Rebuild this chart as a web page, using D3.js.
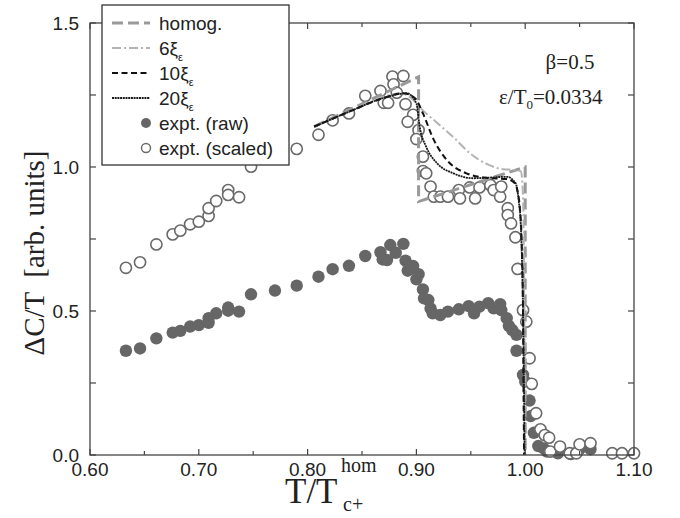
<!DOCTYPE html>
<html>
<head>
<meta charset="utf-8">
<script src="https://cdn.jsdelivr.net/npm/d3@7"></script>
<style>
  body { margin: 0; background: #fff; }
  svg { display: block; }
  .tick-label { font-family: "Liberation Sans", Arial, sans-serif; font-size: 19px; fill: #222; }
  .serif { font-family: "Liberation Serif", "Times New Roman", serif; fill: #222; white-space: pre; }
  .legend-text { font-family: "Liberation Sans", Arial, sans-serif; font-size: 19px; fill: #222; }
</style>
</head>
<body>
<svg id="chart" width="680" height="518"></svg>
<script>
// experimental points, scaled (open circles)
const scaledT = [0.633, 0.646, 0.661, 0.676, 0.683, 0.692, 0.700, 0.709, 0.709, 0.716, 0.727, 0.727, 0.737, 0.748, 0.790,
  0.810, 0.823, 0.838, 0.853, 0.867, 0.870, 0.874, 0.878, 0.888, 0.879, 0.882, 0.890, 0.897, 0.892, 0.902, 0.900,
  0.906, 0.906, 0.909, 0.913, 0.916, 0.922, 0.929, 0.939, 0.940, 0.949, 0.954, 0.958, 0.968, 0.971, 0.977, 0.978,
  0.984, 0.984, 0.987, 0.991, 0.993, 0.998, 1.001, 1.004, 1.006, 1.010, 1.014, 1.018, 1.022, 1.023, 1.032, 1.041,
  1.047, 1.050, 1.060, 1.080, 1.089, 1.100];
const scaledC = [0.650, 0.669, 0.731, 0.766, 0.779, 0.801, 0.810, 0.830, 0.857, 0.882, 0.920, 0.903, 0.895, 1.001, 1.063,
  1.112, 1.162, 1.186, 1.247, 1.264, 1.223, 1.223, 1.314, 1.316, 1.287, 1.258, 1.218, 1.181, 1.157, 1.128, 1.097,
  1.036, 0.986, 0.978, 0.932, 0.897, 0.897, 0.897, 0.920, 0.891, 0.929, 0.891, 0.929, 0.937, 0.920, 0.897, 0.932,
  0.857, 0.833, 0.804, 0.756, 0.646, 0.503, 0.463, 0.336, 0.247, 0.145, 0.089, 0.069, 0.060, 0.012, 0.029, 0.006,
  0.006, 0.037, 0.041, 0.006, 0.006, 0.006];

// experimental points, raw (filled circles)
const rawT = [0.633, 0.646, 0.661, 0.676, 0.683, 0.692, 0.700, 0.709, 0.709, 0.716, 0.727, 0.727, 0.737, 0.748, 0.770,
  0.790, 0.810, 0.823, 0.838, 0.853, 0.867, 0.869, 0.873, 0.876, 0.888, 0.881, 0.890, 0.897, 0.892, 0.902, 0.900,
  0.906, 0.907, 0.911, 0.913, 0.915, 0.922, 0.929, 0.939, 0.948, 0.953, 0.958, 0.966, 0.971, 0.977, 0.978, 0.983,
  0.985, 0.988, 0.992, 0.992, 0.998, 1.000, 1.004, 1.005, 1.008, 1.012, 1.017, 1.020, 1.030, 1.042, 1.050, 1.060];
const rawC = [0.362, 0.370, 0.405, 0.425, 0.431, 0.446, 0.451, 0.459, 0.475, 0.492, 0.512, 0.501, 0.498, 0.558, 0.571,
  0.588, 0.619, 0.645, 0.657, 0.691, 0.704, 0.679, 0.677, 0.729, 0.733, 0.702, 0.675, 0.656, 0.640, 0.628, 0.610,
  0.575, 0.544, 0.538, 0.509, 0.492, 0.486, 0.498, 0.506, 0.517, 0.492, 0.515, 0.527, 0.509, 0.524, 0.503, 0.475,
  0.448, 0.434, 0.417, 0.362, 0.278, 0.255, 0.189, 0.135, 0.077, 0.031, 0.023, 0.012, 0.006, 0.003, 0.020, 0.020];

// theory curves
const homogT = [0.806, 0.902, 0.902, 1.000, 1.000];
const homogC = [1.140, 1.313, 0.880, 1.000, 0.000];

const xi6T = [0.806, 0.840, 0.870, 0.885, 0.895, 0.905, 0.920, 0.935, 0.950, 0.965, 0.980, 0.990, 0.996, 0.998, 0.9992, 1.000];
const xi6C = [1.140, 1.195, 1.245, 1.255, 1.240, 1.200, 1.150, 1.100, 1.045, 1.010, 0.992, 0.990, 0.985, 0.900, 0.500, 0.000];

const xi10T = [0.806, 0.840, 0.870, 0.888, 0.899, 0.906, 0.916, 0.928, 0.946, 0.965, 0.983, 0.990, 0.993, 0.995, 0.9967, 0.998, 0.9985, 0.999];
const xi10C = [1.140, 1.195, 1.240, 1.256, 1.238, 1.186, 1.094, 1.024, 0.978, 0.962, 0.958, 0.945, 0.915, 0.860, 0.747, 0.490, 0.200, 0.000];

const xi20T = [0.806, 0.840, 0.870, 0.891, 0.900, 0.903, 0.909, 0.919, 0.934, 0.952, 0.971, 0.983, 0.991, 0.994, 0.996, 0.998, 0.999, 0.9995];
const xi20C = [1.140, 1.195, 1.240, 1.256, 1.221, 1.140, 1.070, 1.013, 0.978, 0.961, 0.964, 0.966, 0.945, 0.885, 0.793, 0.500, 0.200, 0.000];

const xTicks = [0.60, 0.70, 0.80, 0.90, 1.00, 1.10];
const yTicks = [0.0, 0.5, 1.0, 1.5];

const svg = d3.select("#chart");
const plotL = 90, plotR = 634, plotT = 23, plotB = 455;

const x = d3.scaleLinear().domain([0.60, 1.10]).range([plotL, plotR]);
const y = d3.scaleLinear().domain([0, 1.5]).range([plotB, plotT]);

const frameColor = "#444";

// points first, curves on top
const raw = d3.zip(rawT, rawC);
const scaled = d3.zip(scaledT, scaledC);

svg.append("g").selectAll("circle")
    .data(raw)
    .enter().append("circle")
    .attr("cx", d => x(d[0]))
    .attr("cy", d => y(d[1]))
    .attr("r", 6.2)
    .attr("fill", "#666");

svg.append("g").selectAll("circle")
    .data(scaled)
    .enter().append("circle")
    .attr("cx", d => x(d[0]))
    .attr("cy", d => y(d[1]))
    .attr("r", 5.6)
    .attr("fill", "#fff")
    .attr("stroke", "#6a6a6a")
    .attr("stroke-width", 1.6);

const curves = [
    { label: "homog.", sub: null, t: homogT, c: homogC, color: "#999", width: 3, dash: "11,5" },
    { label: "6ξ", sub: "ε", t: xi6T, c: xi6C, color: "#b3b3b3", width: 2, dash: "9,3,2,3" },
    { label: "10ξ", sub: "ε", t: xi10T, c: xi10C, color: "#111", width: 2, dash: "6,3.5" },
    { label: "20ξ", sub: "ε", t: xi20T, c: xi20C, color: "#1a1a1a", width: 1.8, dash: "2,0.7" }
];

const line = d3.line()
    .x(d => x(d[0]))
    .y(d => y(d[1]))
    .curve(d3.curveMonotoneX);
const straight = d3.line()
    .x(d => x(d[0]))
    .y(d => y(d[1]));

curves.forEach((cv, i) => {
    svg.append("path")
        .attr("d", (i === 0 ? straight : line)(d3.zip(cv.t, cv.c)))
        .attr("fill", "none")
        .attr("stroke", cv.color)
        .attr("stroke-width", cv.width)
        .attr("stroke-dasharray", cv.dash);
});

// frame and ticks
svg.append("rect")
    .attr("x", plotL).attr("y", plotT)
    .attr("width", plotR - plotL).attr("height", plotB - plotT)
    .attr("fill", "none")
    .attr("stroke", frameColor)
    .attr("stroke-width", 1.3);

const ticks = svg.append("g").attr("stroke", frameColor).attr("stroke-width", 1.2);
d3.range(0.60, 1.1001, 0.05).forEach(v => {
    const major = Math.abs(Math.round(v * 10) - v * 10) < 1e-6;
    const len = major ? 6 : 4;
    ticks.append("line").attr("x1", x(v)).attr("x2", x(v)).attr("y1", plotB).attr("y2", plotB - len);
    ticks.append("line").attr("x1", x(v)).attr("x2", x(v)).attr("y1", plotT).attr("y2", plotT + len);
});
d3.range(0, 1.5001, 0.25).forEach(v => {
    ticks.append("line").attr("x1", plotL).attr("x2", plotL + 6).attr("y1", y(v)).attr("y2", y(v));
    ticks.append("line").attr("x1", plotR).attr("x2", plotR - 6).attr("y1", y(v)).attr("y2", y(v));
});

svg.append("g").selectAll("text")
    .data(xTicks)
    .enter().append("text")
    .attr("class", "tick-label")
    .attr("x", d => x(d))
    .attr("y", 476)
    .attr("text-anchor", "middle")
    .text(d => d.toFixed(2));

svg.append("g").selectAll("text")
    .data(yTicks)
    .enter().append("text")
    .attr("class", "tick-label")
    .attr("x", 79)
    .attr("y", d => y(d) + 7)
    .attr("text-anchor", "end")
    .text(d => d.toFixed(1));

// axis titles
svg.append("text").attr("class", "serif").attr("x", 285).attr("y", 503)
    .style("font-size", "35px").text("T/T");
svg.append("text").attr("class", "serif").attr("x", 341).attr("y", 472)
    .style("font-size", "20px").text("hom");
svg.append("text").attr("class", "serif").attr("x", 343).attr("y", 511)
    .style("font-size", "20px").text("c+");

svg.append("text")
    .attr("class", "serif")
    .attr("transform", "translate(44,253) rotate(-90)")
    .attr("text-anchor", "middle")
    .style("font-size", "29px")
    .text("ΔC/T  [arb. units]");

// annotations
svg.append("text").attr("class", "serif").attr("x", 570).attr("y", 69)
    .attr("text-anchor", "middle").style("font-size", "21px").text("β=0.5");
const ann = svg.append("text").attr("class", "serif").attr("x", 499).attr("y", 104).style("font-size", "21px");
ann.append("tspan").text("ε/T");
ann.append("tspan").attr("dy", 5).style("font-size", "13px").text("0");
ann.append("tspan").attr("dy", -5).text("=0.0334");

// legend
const lg = svg.append("g");
lg.append("rect")
    .attr("x", 102).attr("y", 5)
    .attr("width", 187).attr("height", 160)
    .attr("fill", "#fff")
    .attr("stroke", "#333")
    .attr("stroke-width", 1.3);

curves.forEach((cv, i) => {
    const ly = 23 + i * 25;
    lg.append("line")
        .attr("x1", 112).attr("x2", 150)
        .attr("y1", ly).attr("y2", ly)
        .attr("stroke", cv.color)
        .attr("stroke-width", cv.width)
        .attr("stroke-dasharray", cv.dash);
    const t = lg.append("text").attr("class", "legend-text").attr("x", 159).attr("y", ly + 7);
    t.append("tspan").text(cv.label);
    if (cv.sub) t.append("tspan").attr("dy", 6).style("font-size", "11px").text(cv.sub);
});

lg.append("circle").attr("cx", 146).attr("cy", 123).attr("r", 5).attr("fill", "#666");
lg.append("text").attr("class", "legend-text").attr("x", 159).attr("y", 130).text("expt. (raw)");
lg.append("circle").attr("cx", 146).attr("cy", 148).attr("r", 4.5)
    .attr("fill", "#fff").attr("stroke", "#6a6a6a").attr("stroke-width", 1.4);
lg.append("text").attr("class", "legend-text").attr("x", 159).attr("y", 155).text("expt. (scaled)");
</script>
</body>
</html>
